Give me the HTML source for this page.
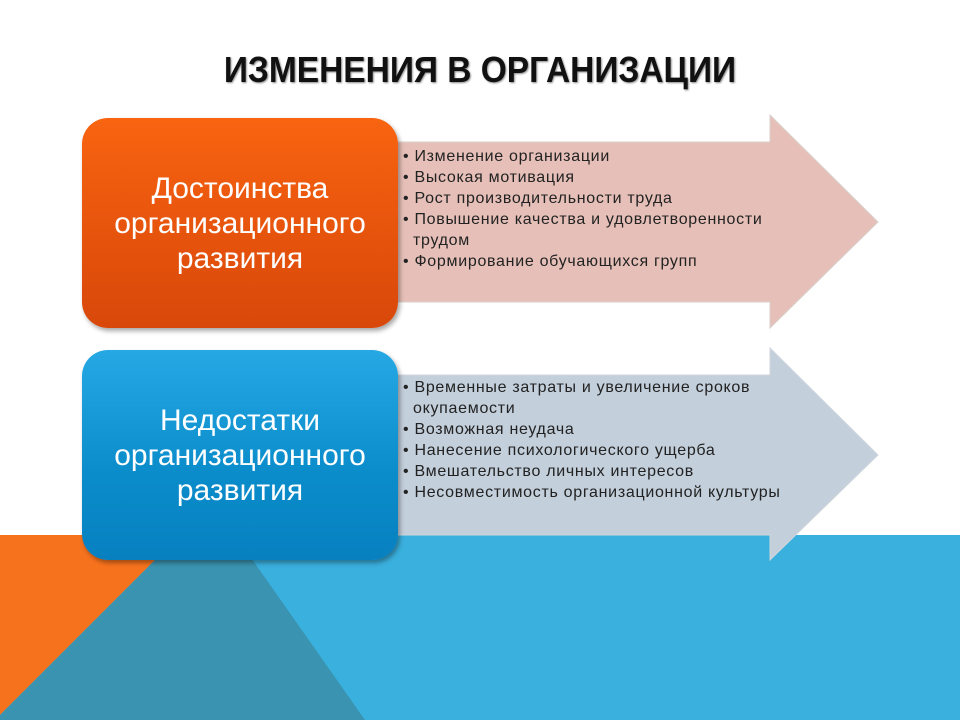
<!DOCTYPE html>
<html><head><meta charset="utf-8"><style>
body{margin:0;width:960px;height:720px;overflow:hidden;background:#fff;font-family:"Liberation Sans",sans-serif;position:relative}
.a{position:absolute}
.title{left:0;width:960px;top:49px;text-align:center;font-size:36px;font-weight:bold;color:#111;text-shadow:1px 1px 2px #888;transform:scaleX(0.93)}
.box{left:82px;width:316px;height:210px;border-radius:26px;color:#fff;font-size:30px;text-align:center;display:flex;align-items:center;justify-content:center;line-height:35px;box-shadow:2px 3px 5px rgba(0,0,0,.35)}
.list{left:403px;font-size:16px;line-height:21px;color:#222;letter-spacing:0.7px}
.list div{padding-left:10px;text-indent:-10px}
</style></head><body>
<svg class="a" style="left:0;top:0" width="960" height="720">
<polygon points="0,535 960,535 960,720 0,720" fill="#3ab0de"/>
<polygon points="0,535 180,535 0,715" fill="#f7721d"/>
<polygon points="180,535 235,535 365,720 0,720 0,715" fill="#3a93b0"/>
<polygon points="390,142 770,142 770,115 878,222 770,328 770,302 390,302" fill="#e6c0b8" stroke="#d8d0cc" stroke-width="1"/>
<polygon points="390,375 770,375 770,348 878,455 770,560 770,535 390,535" fill="#c3cfdb" stroke="#d0d6dc" stroke-width="1"/>
</svg>
<div class="a title">ИЗМЕНЕНИЯ В ОРГАНИЗАЦИИ</div>
<div class="a box" style="top:118px;background:linear-gradient(#f86410,#e5520c 60%,#d8480a)">Достоинства<br>организационного<br>развития</div>
<div class="a box" style="top:350px;background:linear-gradient(#25a8e4,#0a8cca 60%,#0880c0)">Недостатки<br>организационного<br>развития</div>
<div class="a list" style="top:146px;width:375px">
<div>• Изменение организации</div>
<div>• Высокая мотивация</div>
<div>• Рост производительности труда</div>
<div>• Повышение качества и удовлетворенности трудом</div>
<div>• Формирование обучающихся групп</div>
</div>
<div class="a list" style="top:377px;width:390px">
<div>• Временные затраты и увеличение сроков окупаемости</div>
<div>• Возможная неудача</div>
<div>• Нанесение психологического ущерба</div>
<div>• Вмешательство личных интересов</div>
<div>• Несовместимость организационной культуры</div>
</div>
</body></html>
